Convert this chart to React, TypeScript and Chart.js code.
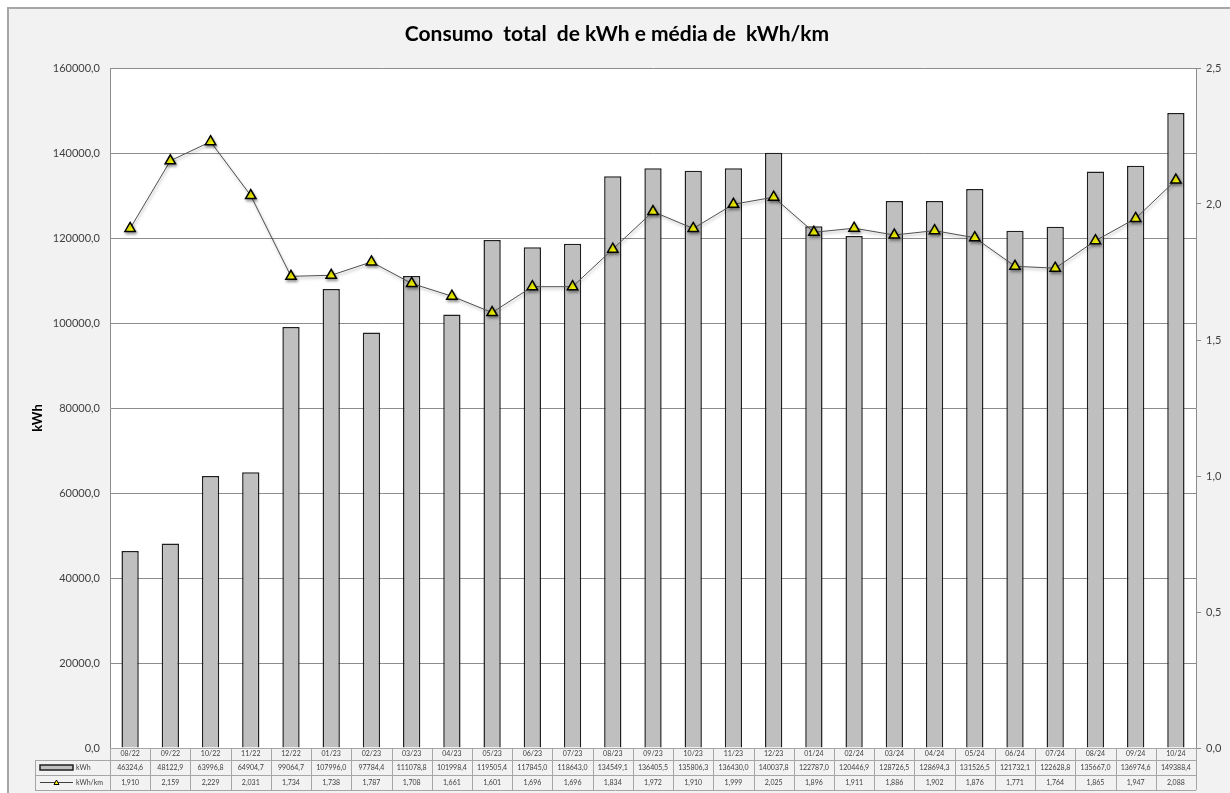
import React, { useEffect, useRef } from 'react';
import { Chart, registerables } from 'chart.js';
Chart.register(...registerables);

const categories = ['08/22','09/22','10/22','11/22','12/22','01/23','02/23','03/23','04/23','05/23','06/23','07/23','08/23','09/23','10/23','11/23','12/23','01/24','02/24','03/24','04/24','05/24','06/24','07/24','08/24','09/24','10/24'];
const kwhValues = [46324.6,48122.9,63996.8,64904.7,99064.7,107996.0,97784.4,111078.8,101998.4,119505.4,117845.0,118643.0,134549.1,136405.5,135806.3,136430.0,140037.8,122787.0,120446.9,128726.5,128694.3,131526.5,121732.1,122628.8,135667.0,136974.6,149388.4];
const kwhPerKmValues = [1.910,2.159,2.229,2.031,1.734,1.738,1.787,1.708,1.661,1.601,1.696,1.696,1.834,1.972,1.910,1.999,2.025,1.896,1.911,1.886,1.902,1.876,1.771,1.764,1.865,1.947,2.088];
const titleText = 'Consumo  total  de kWh e média de  kWh/km';
const leftAxisTitle = 'kWh';
const seriesNames = ['kWh', 'kWh/km'];

const W = 1230, H = 793;
const FONT = 'Lato, "Open Sans", sans-serif';
const fmt1 = (v: number) => v.toFixed(1).replace('.', ',');
const fmt3 = (v: number) => v.toFixed(3).replace('.', ',');

const BAR_FILL = '#bfbfbf';
const BAR_BORDER = '#1f1f1f';
const GRID = '#8c8c8c';
const TABLE_LINE = '#a6a6a6';
const TEXT = '#404040';

const framePlugin = {
  id: 'frame',
  beforeDraw(chart: any) {
    const { ctx, chartArea: a } = chart;
    ctx.save();
    ctx.fillStyle = '#ffffff';
    ctx.fillRect(0, 0, W, H);
    ctx.fillStyle = '#f2f2f2';
    ctx.fillRect(8, 8, W - 8, H - 8);
    ctx.strokeStyle = '#a6a6a6';
    ctx.lineWidth = 2;
    ctx.beginPath();
    ctx.moveTo(8, H);
    ctx.lineTo(8, 8);
    ctx.lineTo(W, 8);
    ctx.stroke();
    ctx.fillStyle = '#ffffff';
    ctx.fillRect(a.left, a.top, a.right - a.left, a.bottom - a.top);
    ctx.restore();
  },
  afterDraw(chart: any) {
    const { ctx, chartArea: a } = chart;
    ctx.save();
    // title
    ctx.fillStyle = '#000000';
    ctx.font = `bold 21px ${FONT}`;
    ctx.textAlign = 'center';
    ctx.textBaseline = 'middle';
    ctx.fillText(titleText, 617, 34);
    // left axis title
    ctx.save();
    ctx.translate(38, 418);
    ctx.rotate(-Math.PI / 2);
    ctx.font = `bold 13px ${FONT}`;
    ctx.fillText(leftAxisTitle, 0, 0);
    ctx.restore();

    // data table
    const n = categories.length;
    const cw = (a.right - a.left) / n;
    const r0 = a.bottom, r1 = 760, r2 = 775, r3 = 790;
    const legL = 35;
    ctx.strokeStyle = TABLE_LINE;
    ctx.lineWidth = 1;
    ctx.beginPath();
    ctx.moveTo(a.left, r0 + 0.5); ctx.lineTo(a.right, r0 + 0.5);
    ctx.moveTo(legL, r1 + 0.5); ctx.lineTo(a.right, r1 + 0.5);
    ctx.moveTo(legL, r2 + 0.5); ctx.lineTo(a.right, r2 + 0.5);
    ctx.moveTo(legL, r3 + 0.5); ctx.lineTo(a.right, r3 + 0.5);
    ctx.moveTo(legL + 0.5, r1); ctx.lineTo(legL + 0.5, r3);
    for (let i = 0; i <= n; i++) {
      const x = Math.round(a.left + i * cw) + 0.5;
      ctx.moveTo(x, r0); ctx.lineTo(x, r3);
    }
    ctx.stroke();

    ctx.fillStyle = TEXT;
    ctx.font = `7px ${FONT}`;
    ctx.textAlign = 'center';
    ctx.textBaseline = 'middle';
    for (let i = 0; i < n; i++) {
      const cx = a.left + (i + 0.5) * cw;
      ctx.fillText(categories[i], cx, (r0 + r1) / 2);
      ctx.fillText(fmt1(kwhValues[i]), cx, (r1 + r2) / 2);
      ctx.fillText(fmt3(kwhPerKmValues[i]), cx, (r2 + r3) / 2);
    }
    // legend keys
    const ky1 = (r1 + r2) / 2, ky2 = (r2 + r3) / 2;
    ctx.fillStyle = BAR_FILL;
    ctx.fillRect(40, ky1 - 2.5, 33, 5);
    ctx.strokeStyle = BAR_BORDER;
    ctx.lineWidth = 1.5;
    ctx.strokeRect(40, ky1 - 2.5, 33, 5);
    ctx.strokeStyle = '#404040';
    ctx.lineWidth = 1;
    ctx.beginPath();
    ctx.moveTo(40, ky2); ctx.lineTo(73, ky2);
    ctx.stroke();
    ctx.fillStyle = '#ffff00';
    ctx.strokeStyle = '#000';
    ctx.beginPath();
    ctx.moveTo(56.5, ky2 - 2.5); ctx.lineTo(59, ky2 + 2); ctx.lineTo(54, ky2 + 2); ctx.closePath();
    ctx.fill(); ctx.stroke();
    ctx.fillStyle = TEXT;
    ctx.font = `7px ${FONT}`;
    ctx.textAlign = 'left';
    ctx.fillText(seriesNames[0], 76, ky1);
    ctx.fillText(seriesNames[1], 76, ky2);
    ctx.restore();
  },
  beforeDatasetDraw(chart: any, args: any) {
    if (args.index === 1) {
      const ctx = chart.ctx;
      ctx.save();
      ctx.shadowColor = 'rgba(0,0,0,0.35)';
      ctx.shadowBlur = 3;
      ctx.shadowOffsetX = 1;
      ctx.shadowOffsetY = 2;
    }
  },
  afterDatasetDraw(chart: any, args: any) {
    if (args.index === 1) chart.ctx.restore();
  },
};

export default function App() {
  const ref = useRef<HTMLCanvasElement>(null);
  useEffect(() => {
    if (!ref.current) return;
    const chart = new Chart(ref.current, {
      type: 'bar',
      data: {
        labels: categories,
        datasets: [
          {
            type: 'bar',
            label: seriesNames[0],
            data: kwhValues,
            yAxisID: 'y',
            backgroundColor: BAR_FILL,
            borderColor: BAR_BORDER,
            borderWidth: 1.5,
            barPercentage: 0.43,
            categoryPercentage: 1,
            order: 2,
          } as any,
          {
            type: 'line',
            label: seriesNames[1],
            data: kwhPerKmValues,
            yAxisID: 'y1',
            borderColor: '#505050',
            borderWidth: 1,
            pointStyle: 'triangle',
            pointRadius: 6,
            pointBackgroundColor: '#ffff00',
            pointBorderColor: '#000000',
            pointBorderWidth: 1.5,
            tension: 0,
            order: 1,
          } as any,
        ],
      },
      options: {
        responsive: false,
        animation: false,
        layout: { padding: { top: 68, bottom: 45, left: 0, right: 0 } },
        plugins: { legend: { display: false }, tooltip: { enabled: false }, title: { display: false } },
        scales: {
          x: { display: false, offset: true },
          y: {
            position: 'left',
            min: 0,
            max: 160000,
            ticks: { stepSize: 20000, callback: (v: any) => fmt1(Number(v)), color: TEXT, font: { family: FONT, size: 11 }, padding: 10 },
            grid: { color: GRID, lineWidth: 1, drawTicks: false },
            border: { display: true, color: GRID, width: 1 },
            afterFit: (s: any) => { s.width = 110; },
          },
          y1: {
            position: 'right',
            min: 0,
            max: 2.5,
            ticks: { stepSize: 0.5, callback: (v: any) => fmt1(Number(v)), color: TEXT, font: { family: FONT, size: 11 }, padding: 5 },
            grid: { drawOnChartArea: false, drawTicks: true, tickLength: 5, color: GRID },
            border: { display: true, color: GRID, width: 1 },
            afterFit: (s: any) => { s.width = 34; },
          },
        },
      },
      plugins: [framePlugin],
    } as any);
    return () => chart.destroy();
  }, []);
  return (
    <div style={{ position: 'absolute', left: 0, top: 0, width: W, height: H }}>
      <canvas ref={ref} width={W} height={H} style={{ display: 'block', width: W, height: H }} />
    </div>
  );
}
